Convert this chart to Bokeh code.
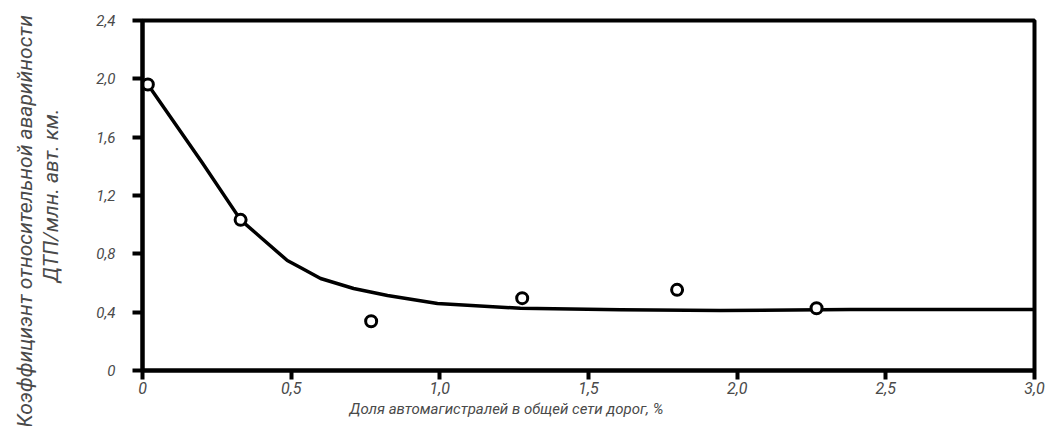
from bokeh.plotting import figure
from bokeh.models import FixedTicker, Title, Range1d
from bokeh.embed import file_html
from bokeh.resources import INLINE

# ---- data ----
point_x = [0.018, 0.330, 0.769, 1.277, 1.798, 2.267]
point_y = [1.961, 1.033, 0.338, 0.496, 0.553, 0.427]

curve_x = [0.018, 0.201, 0.330, 0.397, 0.487, 0.531, 0.599, 0.710, 0.824, 0.992, 1.271, 1.608, 1.944, 2.381, 3.0]
curve_y = [1.961, 1.425, 1.033, 0.914, 0.754, 0.706, 0.631, 0.562, 0.514, 0.459, 0.427, 0.416, 0.411, 0.418, 0.418]

x_ticks = [0, 0.5, 1.0, 1.5, 2.0, 2.5, 3.0]
x_tick_labels = ["0", "0,5", "1,0", "1,5", "2,0", "2,5", "3,0"]
y_ticks = [0, 0.4, 0.8, 1.2, 1.6, 2.0, 2.4]
y_tick_labels = ["0", "0,4", "0,8", "1,2", "1,6", "2,0", "2,4"]

x_title = "Доля автомагистралей в общей сети дорог, %"
y_title_1 = "Коэффициэнт относительной аварийности"
y_title_2 = "ДТП/млн. авт. км."

FONT = "Roboto"
TXT = "#4a4a4a"

p = figure(width=1045, height=426, output_backend="svg", toolbar_location=None,
           x_range=Range1d(0, 3.0), y_range=Range1d(0, 2.4),
           min_border_left=142, min_border_right=11, min_border_top=20, min_border_bottom=56)

p.grid.visible = False
p.outline_line_color = "black"
p.outline_line_width = 4
p.background_fill_color = "white"
p.border_fill_color = "white"

for ax in (p.xaxis[0], p.yaxis[0]):
    ax.axis_line_width = 4
    ax.axis_line_color = "black"
    ax.major_tick_line_width = 4
    ax.major_tick_line_color = "black"
    ax.minor_tick_line_color = None
    ax.major_tick_in = 0
    ax.major_label_text_font = FONT
    ax.major_label_text_font_style = "italic"
    ax.major_label_text_color = TXT

p.xaxis.ticker = FixedTicker(ticks=x_ticks)
p.xaxis.major_label_overrides = {t: l for t, l in zip(x_ticks, x_tick_labels)}
p.xaxis.major_tick_out = 9
p.xaxis.major_label_standoff = 2
p.xaxis.major_label_text_font_size = "16px"

p.yaxis.ticker = FixedTicker(ticks=y_ticks)
p.yaxis.major_label_overrides = {t: l for t, l in zip(y_ticks, y_tick_labels)}
p.yaxis.major_tick_out = 10
p.yaxis.major_label_standoff = 17
p.yaxis.major_label_text_font_size = "15px"

# y-axis title: second line as the axis label, first line as an outer title
p.yaxis.axis_label = y_title_2
p.yaxis.axis_label_standoff = 30
p.yaxis.axis_label_text_font = FONT
p.yaxis.axis_label_text_font_style = "italic"
p.yaxis.axis_label_text_font_size = "21px"
p.yaxis.axis_label_text_color = TXT

p.add_layout(Title(text=y_title_1, align="left", offset=-57, standoff=0,
                   text_font=FONT, text_font_style="italic", text_font_size="21px",
                   text_color=TXT), "left")
p.add_layout(Title(text=x_title, align="left", offset=207, standoff=2,
                   text_font=FONT, text_font_style="italic", text_font_size="15px",
                   text_color=TXT), "below")

p.line(curve_x, curve_y, line_color="black", line_width=3.5, line_join="round", line_cap="round")
p.scatter(point_x, point_y, size=11, fill_color="white", line_color="black", line_width=3)

open("out.html", "w").write(file_html(p, INLINE))
